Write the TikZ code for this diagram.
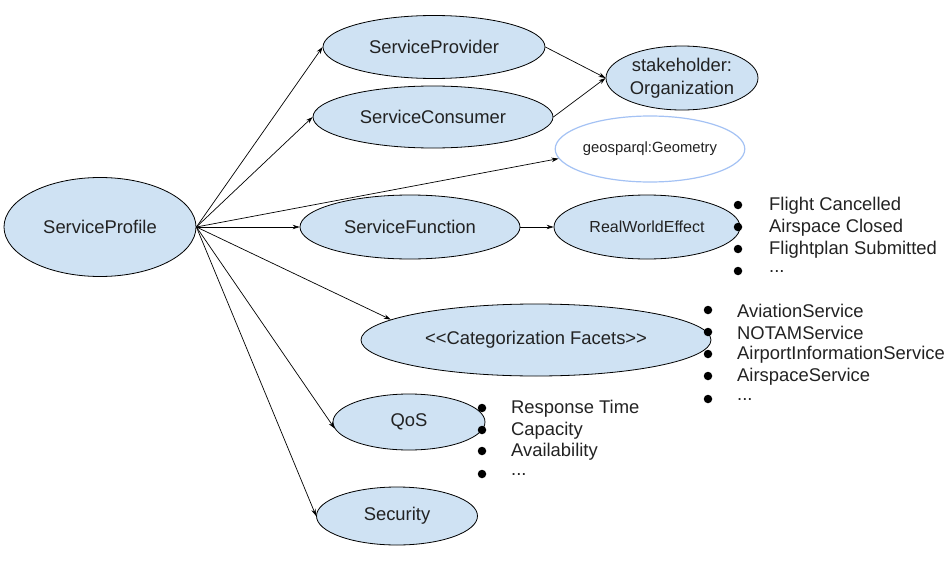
\documentclass[tikz,border=0pt]{standalone}
\usepackage{fontspec}
\setmainfont{Liberation Sans}
\usetikzlibrary{shapes.geometric,arrows.meta}
\definecolor{ellfill}{HTML}{CFE2F3}
\definecolor{geoline}{HTML}{A4C2F4}
\definecolor{txt}{HTML}{222222}
\tikzset{
  ell/.style={ellipse, draw=black, line width=0.8pt, fill=ellfill, inner sep=0pt, text=txt, font=\fontsize{18.4}{23}\selectfont, align=center},
  geoell/.style={ellipse, draw=geoline, line width=1.2pt, fill=white, inner sep=0pt, text=txt, font=\fontsize{14.8}{18}\selectfont},
  conn/.style={line width=0.7pt, -{Stealth[length=7pt,width=4.5pt]}},
  item/.style={anchor=west, inner sep=0pt, text=txt, font=\fontsize{18.4}{22}\selectfont},
  dot/.style={circle, fill=black, inner sep=0pt, minimum size=8.5pt}
}
\begin{document}
\begin{tikzpicture}[x=1pt,y=-1pt]
\useasboundingbox (0,0) rectangle (951,562);
\node[ell, minimum width=192pt, minimum height=99pt] (sp) at (100,227) {ServiceProfile};
\node[ell, minimum width=222pt, minimum height=63pt] (prov) at (434,47) {ServiceProvider};
\node[ell, minimum width=240pt, minimum height=62pt] (cons) at (433,117) {ServiceConsumer};
\node[ell, minimum width=152pt, minimum height=64pt] (org) at (682,78) {stakeholder:\\Organization};
\node[geoell, minimum width=170pt, minimum height=66pt] (geo) at (650,149) {geosparql:Geometry};
\node[ell, minimum width=220pt, minimum height=64pt] (func) at (410,227) {ServiceFunction};
\node[ell, minimum width=186pt, minimum height=64pt, font=\fontsize{16}{20}\selectfont] (rwe) at (647,227) {RealWorldEffect};
\node[ell, minimum width=350pt, minimum height=72pt] (cat) at (536,340) {<{}<Categorization Facets>{}>};
\node[ell, minimum width=152pt, minimum height=56pt] (qos) at (409,422) {QoS};
\node[ell, minimum width=161pt, minimum height=58pt] (sec) at (397,516) {Security};

\draw[conn] (sp.east) -- (prov.west);
\draw[conn] (sp.east) -- (cons.west);
\draw[conn] (sp.east) -- (geo.186);
\draw[conn] (sp.east) -- (func.west);
\draw[conn] (sp.east) -- (cat.172);
\draw[conn] (sp.east) -- (qos.185);
\draw[conn] (sp.east) -- (sec.west);
\draw[conn] (prov.east) -- (org.west);
\draw[conn] (cons.east) -- (org.west);
\draw[conn] (func.east) -- (rwe.west);

% RealWorldEffect list
\node[dot] (b1) at (738,205) {}; \node[item] (t1) at (769,206) {Flight Cancelled};
\node[dot] (b2) at (738,227) {}; \node[item] (t2) at (769,228) {Airspace Closed};
\node[dot] (b3) at (738,249) {}; \node[item] (t3) at (769,250) {Flightplan Submitted};
\node[dot] (b4) at (738,271) {}; \node[item] (t4) at (769,272) {...};

% Categorization list
\node[dot] (c1) at (708,310) {}; \node[item] (u1) at (737,311) {AviationService};
\node[dot] (c2) at (708,332) {}; \node[item] (u2) at (737,333) {NOTAMService};
\node[dot] (c3) at (708,354) {}; \node[item] (u3) at (737,355) {AirportInformationService};
\node[dot] (c4) at (708,376) {}; \node[item] (u4) at (737,377) {AirspaceService};
\node[dot] (c5) at (708,399) {}; \node[item] (u5) at (737,400) {...};

% QoS list
\node[dot] (d1) at (482,408) {}; \node[item] (v1) at (511,409) {Response Time};
\node[dot] (d2) at (482,430) {}; \node[item] (v2) at (511,431) {Capacity};
\node[dot] (d3) at (482,451) {}; \node[item] (v3) at (511,452) {Availability};
\node[dot] (d4) at (482,474) {}; \node[item] (v4) at (511,475) {...};
\end{tikzpicture}
\end{document}
